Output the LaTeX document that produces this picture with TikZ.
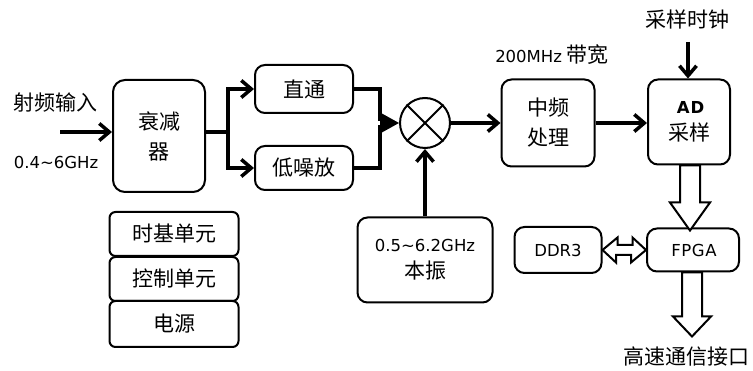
\documentclass[tikz,border=0pt]{standalone}
\usepackage{fontspec}
\setmainfont{DejaVu Sans}
\newfontfamily\cjk{Noto Sans CJK SC}
\usetikzlibrary{arrows.meta,calc}
\newcommand\zhfs{\cjk\fontsize{21}{30}\selectfont}
\newcommand\latfs{\rmfamily\fontsize{16.5}{20}\selectfont}
\begin{document}
\begin{tikzpicture}[x=1pt,y=-1pt,
  box/.style={draw,line width=2pt,rounded corners=10pt,fill=white,align=center,inner sep=0pt,font=\zhfs},
  sbox/.style={box,rounded corners=6pt,minimum width=129pt},
  conn/.style={line width=3.5pt,-{Straight Barb[length=10pt,width=17pt]}},
  wire/.style={line width=3.5pt},
  hollow/.style={draw,line width=2pt,fill=white,line join=miter},
  lbl/.style={inner sep=0pt,font=\zhfs}]
\useasboundingbox (0,0) rectangle (753,371);

% nodes
\node[box,rounded corners=12pt,minimum width=92pt,minimum height=112pt] (att) at (159,136) {衰减\\器};
\node[box,minimum width=98pt,minimum height=48pt] (zt) at (304,89) {直通};
\node[box,minimum width=98pt,minimum height=44pt] (lna) at (304,168) {低噪放};
\node[draw,circle,line width=2pt,minimum size=50pt,inner sep=0pt] (mix) at (425,123) {};
\node[box,minimum width=93pt,minimum height=87pt] (if) at (548,123) {中频\\处理};
\node[box,minimum width=82pt,minimum height=85pt] (ad) at (689,122) {{\latfs\bfseries\hspace{3pt}\addfontfeature{LetterSpace=6}AD}\\[-3pt]采样};
\node[box,minimum width=92pt,minimum height=43pt,font=\latfs] (fpga) at (693,250) {\hspace{2pt}\addfontfeature{LetterSpace=4}FPGA};
\node[box,minimum width=87pt,minimum height=46pt,font=\latfs] (ddr) at (558,250) {DDR3};
\node[box,minimum width=135pt,minimum height=85pt] (lo) at (425,260) {{\latfs 0.5\textasciitilde 6.2GHz}\\[-3pt]本振};
\node[sbox,minimum height=44pt] (tj) at (174,234) {时基单元};
\node[sbox,minimum height=44pt] (kz) at (174,279) {控制单元};
\node[sbox,minimum height=46pt] (dy) at (174,324) {电源};

% labels
\node[lbl] (rfin) at (55,103) {射频输入};
\node[lbl,font=\latfs] (rfband) at (56,162) {0.4\textasciitilde 6GHz};
\node[lbl] (bw) at (552,55) {{\latfs 200MHz} 带宽};
\node[lbl] (clk) at (687,20) {采样时钟};
\node[lbl] (hs) at (686,357) {高速通信接口};

% mixer cross
\draw[line width=2pt] (mix.45) -- (mix.225) (mix.135) -- (mix.315);

% connectors
\coordinate (in) at (60,132);
\draw[conn] (in) -- (in -| att.west);
\coordinate (br) at (228,132);
\draw[wire] (br -| att.east) -- (br);
\draw[conn] ($(br)+(0,1.75)$) |- (zt.west);
\draw[conn] ($(br)+(0,-1.75)$) |- (lna.west);
\coordinate (jn) at (380,123);
\draw[wire] (zt.east) -| ($(jn)+(0,-1.75)$);
\draw[wire] (lna.east) -| ($(jn)+(0,1.75)$);
\draw[line width=3.5pt,-{Triangle[length=18pt,width=20pt,line width=0pt]}] (jn) -- (mix.west);
\draw[conn] (mix.east) -- (if.west);
\draw[conn] (if.east) -- (if.east -| ad.west);
\draw[conn] (lo.north) -- (mix.south);
\coordinate (clkin) at (688,42);
\draw[conn] (clkin) -- (clkin |- ad.north);

% hollow arrows
\coordinate (h1) at ($(ad.south)+(1,0)$);
\draw[hollow] ($(h1)+(-10,0)$) -- ++(0,37) -- ++(-10,0) -- ($(h1)+(0,65)$) -- ++(20,-28) -- ++(-10,0) -- ++(0,-37) -- cycle;
\coordinate (h2) at ($(fpga.south)+(-1,0)$);
\draw[hollow] ($(h2)+(-10,0)$) -- ++(0,44) -- ++(-9,0) -- ($(h2)+(0,64)$) -- ++(19,-20) -- ++(-9,0) -- ++(0,-44) -- cycle;
\draw[hollow] (ddr.east) -- ++(15,-12.5) -- ++(0,7.5) -- ++(15,0) -- ++(0,-7.5) -- (fpga.west) -- ++(-15,12.5) -- ++(0,-7.5) -- ++(-15,0) -- ++(0,7.5) -- cycle;
\end{tikzpicture}
\end{document}
